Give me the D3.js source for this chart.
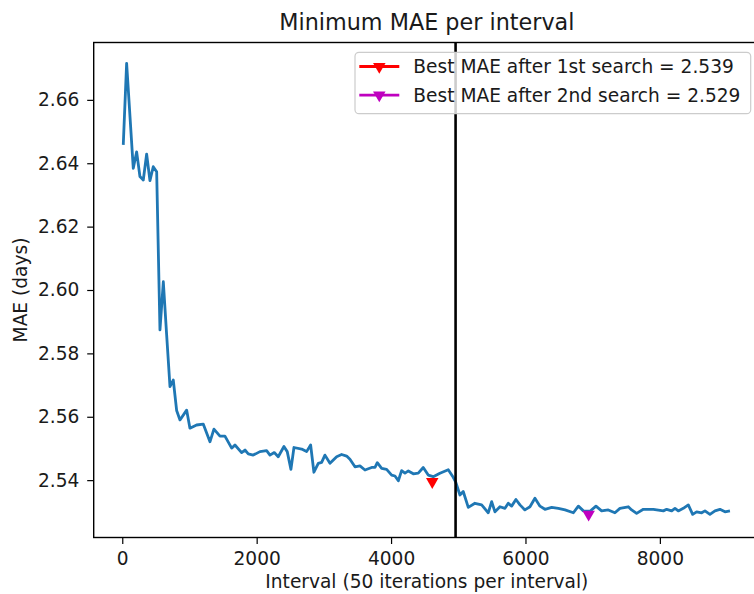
<!DOCTYPE html>
<html>
<head>
<meta charset="utf-8">
<script src="https://cdn.jsdelivr.net/npm/d3@7"></script>
<style>
  body { margin: 0; background: #fff; }
  svg { font-family: 'DejaVu Sans', sans-serif; display: block; }
</style>
</head>
<body>
<div id="chart"></div>
<script>
// interval index and the minimum MAE seen in it
const intervals = [15, 65, 164, 214, 263, 313, 363, 412, 461, 512, 561, 611, 660, 710, 759, 809, 859, 958,
  1007, 1106, 1205, 1305, 1364, 1454, 1528, 1628, 1677, 1776, 1826, 1875, 1949, 2049, 2148, 2198,
  2262, 2321, 2406, 2455, 2510, 2555, 2669, 2743, 2803, 2852, 2917, 2967, 3016, 3091, 3190, 3264,
  3339, 3388, 3463, 3537, 3612, 3711, 3761, 3795, 3860, 3934, 4009, 4058, 4108, 4157, 4207, 4257,
  4331, 4405, 4479, 4553, 4628, 4727, 4851, 4925, 4960, 5025, 5074, 5149, 5248, 5348, 5446, 5497,
  5546, 5620, 5695, 5744, 5794, 5858, 5918, 5992, 6067, 6141, 6216, 6290, 6390, 6489, 6589, 6713,
  6787, 6862, 6961, 7049, 7133, 7232, 7331, 7406, 7530, 7580, 7654, 7754, 7903, 8052, 8101, 8176,
  8225, 8274, 8349, 8423, 8488, 8547, 8622, 8671, 8745, 8820, 8894, 8969, 9043]
const mae = [2.6458, 2.6715, 2.6384, 2.6436, 2.6358, 2.6347, 2.6429, 2.6345, 2.6389, 2.6373, 2.5874, 2.6026, 2.5860, 2.5695, 2.5716, 2.5620, 2.5590, 2.5621,
  2.5564, 2.5574, 2.5577, 2.5521, 2.5561, 2.5539, 2.5539, 2.5501, 2.5511, 2.5487, 2.5495, 2.5483, 2.5479, 2.5490, 2.5493, 2.5479,
  2.5487, 2.5474, 2.5506, 2.5490, 2.5434, 2.5503, 2.5498, 2.5490, 2.5511, 2.5425, 2.5453, 2.5456, 2.5479, 2.5453, 2.5474, 2.5481,
  2.5476, 2.5466, 2.5442, 2.5445, 2.5432, 2.5440, 2.5440, 2.5455, 2.5437, 2.5434, 2.5416, 2.5413, 2.5398, 2.5430, 2.5422, 2.5429,
  2.5420, 2.5422, 2.5440, 2.5416, 2.5411, 2.5422, 2.5433, 2.5409, 2.5395, 2.5353, 2.5364, 2.5314, 2.5327, 2.5322, 2.5297, 2.5332,
  2.5300, 2.5316, 2.5311, 2.5327, 2.5318, 2.5339, 2.5322, 2.5306, 2.5316, 2.5343, 2.5318, 2.5308, 2.5314, 2.5311, 2.5306, 2.5297,
  2.5318, 2.5303, 2.5302, 2.5318, 2.5303, 2.5306, 2.5297, 2.5311, 2.5316, 2.5306, 2.5295, 2.5308, 2.5308, 2.5303, 2.5308, 2.5303,
  2.5311, 2.5303, 2.5311, 2.5322, 2.5292, 2.5300, 2.5297, 2.5303, 2.5292, 2.5303, 2.5308, 2.5300, 2.5303]

const searchSplit = 4960
const bestLabels = ['Best MAE after 1st search = 2.539', 'Best MAE after 2nd search = 2.529']
const bestX = [4613, 6940]
const bestY = [2.5395, 2.5292]
const bestColors = ['#ff0000', '#bf00bf']
const xTicks = [0, 2000, 4000, 6000, 8000]
const yTicks = [2.54, 2.56, 2.58, 2.60, 2.62, 2.64, 2.66]

const W = 754, H = 594
const m = { left: 93.7, right: 760, top: 42.5, bottom: 537.5 }
const fontSize = 18.6
const textColor = '#1a1a1a'

const x = d3.scaleLinear().domain([-425, 9490]).range([m.left, m.right])
const y = d3.scaleLinear().domain([2.5219, 2.6781]).range([m.bottom, m.top])

const svg = d3.select('#chart').append('svg')
  .attr('width', W)
  .attr('height', H)

svg.append('text')
  .attr('x', (m.left + m.right) / 2)
  .attr('y', 30)
  .attr('text-anchor', 'middle')
  .attr('font-size', 22.3)
  .attr('fill', textColor)
  .text('Minimum MAE per interval')

const xAxis = svg.append('g')
  .attr('transform', `translate(0,${m.bottom})`)
  .call(d3.axisBottom(x).tickValues(xTicks).tickFormat(d3.format('d')).tickSize(6.5).tickPadding(8))
const yAxis = svg.append('g')
  .attr('transform', `translate(${m.left},0)`)
  .call(d3.axisLeft(y).tickValues(yTicks).tickFormat(d3.format('.2f')).tickSize(6.5).tickPadding(7.9))

;[xAxis, yAxis].forEach(a => {
  a.select('.domain').remove()
  a.selectAll('line').attr('stroke', '#000').attr('stroke-width', 1.2)
  a.selectAll('text')
    .attr('font-size', fontSize)
    .attr('font-family', "'DejaVu Sans', sans-serif")
    .attr('fill', textColor)
})

svg.append('text')
  .attr('x', (m.left + m.right) / 2)
  .attr('y', 588)
  .attr('text-anchor', 'middle')
  .attr('font-size', fontSize)
  .attr('fill', textColor)
  .text('Interval (50 iterations per interval)')

svg.append('text')
  .attr('transform', `translate(27,${(m.top + m.bottom) / 2}) rotate(-90)`)
  .attr('text-anchor', 'middle')
  .attr('font-size', fontSize)
  .attr('fill', textColor)
  .text('MAE (days)')

const points = intervals.map((d, i) => [d, mae[i]])

svg.append('path')
  .datum(points)
  .attr('fill', 'none')
  .attr('stroke', '#1f77b4')
  .attr('stroke-width', 2.8)
  .attr('stroke-linejoin', 'round')
  .attr('d', d3.line().x(d => x(d[0])).y(d => y(d[1])))

svg.append('line')
  .attr('x1', x(searchSplit)).attr('x2', x(searchSplit))
  .attr('y1', m.top).attr('y2', m.bottom)
  .attr('stroke', '#000')
  .attr('stroke-width', 2.6)

const tri = d3.symbol().type(d3.symbolTriangle).size(68)

svg.selectAll('.best')
  .data(bestX)
  .join('path')
    .attr('class', 'best')
    .attr('transform', (d, i) => `translate(${x(d)},${y(bestY[i])}) rotate(180)`)
    .attr('d', tri)
    .attr('fill', (d, i) => bestColors[i])

// plot frame
svg.append('rect')
  .attr('x', m.left).attr('y', m.top)
  .attr('width', m.right - m.left).attr('height', m.bottom - m.top)
  .attr('fill', 'none')
  .attr('stroke', '#000')
  .attr('stroke-width', 1.4)

// legend
const legend = svg.append('g')
legend.append('rect')
  .attr('x', 355).attr('y', 52.3)
  .attr('width', 395.7).attr('height', 61.4)
  .attr('rx', 4)
  .attr('fill', 'rgba(255,255,255,0.8)')
  .attr('stroke', '#cccccc')
  .attr('stroke-width', 1.2)

const rows = legend.selectAll('.row')
  .data(bestLabels)
  .join('g')
    .attr('transform', (d, i) => `translate(0,${66.5 + i * 28.6})`)

rows.append('line')
  .attr('x1', 359.3).attr('x2', 399.3)
  .attr('stroke', (d, i) => bestColors[i])
  .attr('stroke-width', 2.8)
rows.append('path')
  .attr('transform', 'translate(379.3,0) rotate(180)')
  .attr('d', tri)
  .attr('fill', (d, i) => bestColors[i])
rows.append('text')
  .attr('x', 413.3)
  .attr('y', 6.7)
  .attr('font-size', fontSize)
  .attr('fill', textColor)
  .text(d => d)
</script>
</body>
</html>
